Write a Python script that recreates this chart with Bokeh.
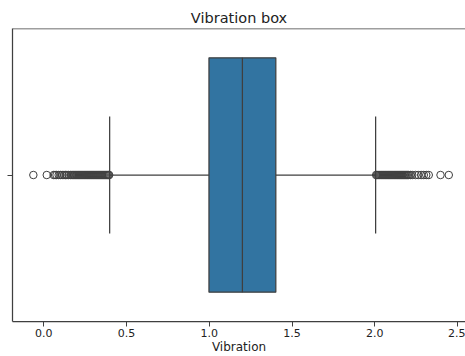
from bokeh.plotting import figure
from bokeh.models import FixedTicker, Span, ColumnDataSource
from bokeh.embed import file_html
from bokeh.resources import INLINE

# ---- data ----
title_text = "Vibration box"
x_label = "Vibration"
tick_values = [0.0, 0.5, 1.0, 1.5, 2.0, 2.5]
tick_labels = ["0.0", "0.5", "1.0", "1.5", "2.0", "2.5"]

q1 = 0.998
median = 1.200
q3 = 1.402
whisker_low = 0.398
whisker_high = 2.005

outliers_low = [-0.063, 0.018, 0.060, 0.068, 0.077, 0.090, 0.100, 0.111, 0.122,
                0.132, 0.140, 0.150, 0.161, 0.170, 0.176, 0.182, 0.188, 0.194,
                0.200, 0.206, 0.212, 0.218, 0.224, 0.230, 0.236, 0.242, 0.248,
                0.254, 0.260, 0.266, 0.272, 0.278, 0.284, 0.290, 0.296, 0.302,
                0.308, 0.314, 0.320, 0.326, 0.332, 0.338, 0.344, 0.350, 0.356,
                0.362, 0.368, 0.374, 0.380, 0.386, 0.391, 0.395]
outliers_high = [2.008, 2.013, 2.019, 2.025, 2.031, 2.037, 2.043, 2.049, 2.055,
                 2.061, 2.067, 2.073, 2.079, 2.085, 2.091, 2.097, 2.103, 2.109,
                 2.115, 2.121, 2.127, 2.133, 2.139, 2.145, 2.151, 2.157, 2.163,
                 2.169, 2.175, 2.181, 2.187, 2.193, 2.199, 2.205, 2.215, 2.226,
                 2.246, 2.262, 2.280, 2.296, 2.311, 2.326, 2.397, 2.447]

box_color = "#3274a1"
line_color = "#3f3f3f"
text_color = "#222222"
font = "DejaVu Sans"

p = figure(width=465, height=356, x_range=(-0.189, 2.548), y_range=(-0.5, 0.5),
           output_backend="svg", toolbar_location=None,
           min_border_left=12, min_border_right=0, min_border_top=28, min_border_bottom=0)

p.title.text = title_text
p.title.align = "center"
p.title.text_font = font
p.title.text_font_size = "14.5px"
p.title.text_font_style = "normal"
p.title.text_color = text_color
p.title.offset = 0
p.title.standoff = 6

p.xgrid.visible = False
p.ygrid.visible = False
p.outline_line_color = None
p.background_fill_color = "white"
p.border_fill_color = "white"

# x axis
xa = p.xaxis[0]
xa.ticker = FixedTicker(ticks=tick_values)
xa.major_label_overrides = {v: l for v, l in zip(tick_values, tick_labels)}
xa.minor_tick_line_color = None
xa.major_tick_out = 5
xa.major_tick_in = 0
xa.major_label_standoff = 2
xa.major_label_text_font = font
xa.major_label_text_font_size = "11px"
xa.major_label_text_color = text_color
xa.axis_label = x_label
xa.axis_label_text_font = font
xa.axis_label_text_font_size = "12px"
xa.axis_label_text_font_style = "normal"
xa.axis_label_text_color = text_color
xa.axis_label_standoff = 0
xa.axis_line_color = line_color
xa.axis_line_width = 1.25
xa.major_tick_line_color = line_color

# y axis: single unlabeled tick at center
ya = p.yaxis[0]
ya.ticker = FixedTicker(ticks=[0])
ya.major_label_overrides = {0: ""}
ya.major_label_standoff = 0
ya.minor_tick_line_color = None
ya.major_tick_out = 5
ya.major_tick_in = 0
ya.axis_line_color = line_color
ya.axis_line_width = 1.25
ya.major_tick_line_color = line_color

# top border
p.add_layout(Span(location=0.5, dimension="width", line_color=line_color, line_width=1.25))

# box
p.quad(left=[q1], right=[q3], bottom=[-0.4], top=[0.4],
       fill_color=box_color, line_color=line_color, line_width=1.25)
# median
p.segment(x0=[median], x1=[median], y0=[-0.4], y1=[0.4], line_color=line_color, line_width=1.25)
# whiskers
p.segment(x0=[whisker_low, q3], x1=[q1, whisker_high], y0=[0, 0], y1=[0, 0],
          line_color=line_color, line_width=1.25)
# caps
p.segment(x0=[whisker_low, whisker_high], x1=[whisker_low, whisker_high],
          y0=[-0.2, -0.2], y1=[0.2, 0.2], line_color=line_color, line_width=1.25)

# outliers
outs = outliers_low + outliers_high
src = ColumnDataSource(dict(x=outs, y=[0] * len(outs)))
p.scatter("x", "y", source=src, marker="circle", size=7.5, fill_color=None,
          line_color=line_color, line_width=1)

open("out.html", "w").write(file_html(p, INLINE))
